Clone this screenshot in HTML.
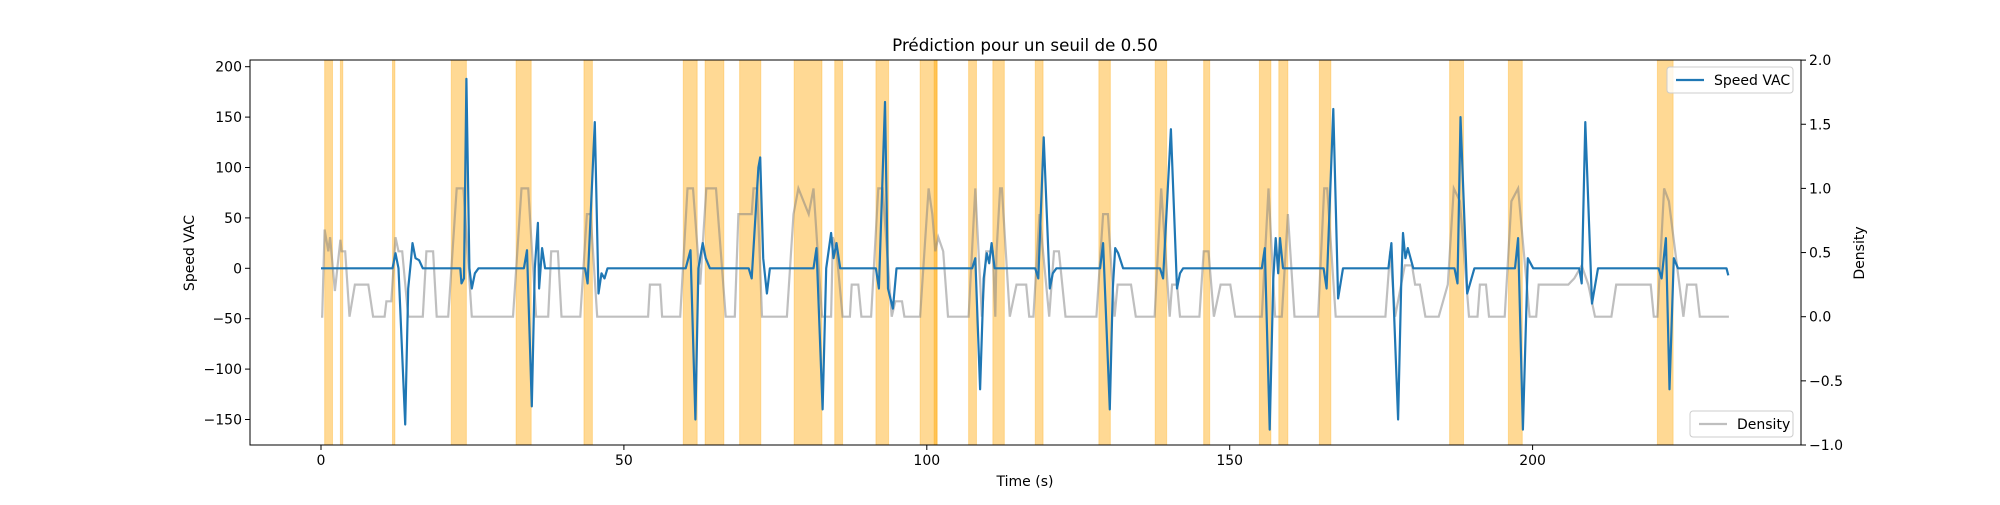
<!DOCTYPE html>
<html><head><meta charset="utf-8"><style>
body{margin:0;background:#fff;}
svg text{font-family:"DejaVu Sans","Liberation Sans",sans-serif;fill:#000;}
</style></head><body>
<svg id="chart" width="2000" height="500" viewBox="0 0 2000 500" xmlns="http://www.w3.org/2000/svg">
<rect width="2000" height="500" fill="#fff"/>
<g id="spans"></g>
<g id="plot"></g>
<g id="axes"></g>
</svg>
<script>
const spanStarts=[0.6,3.2,11.8,21.5,32.2,43.4,59.8,63.4,69.1,78.1,84.8,91.6,98.9,101.2,106.9,110.9,117.9,128.4,137.7,145.7,154.9,158.1,164.8,186.3,196.0,220.6];
const spanEnds  =[1.9,3.6,12.2,24.0,34.7,44.8,62.1,66.5,72.6,82.7,86.1,93.7,101.7,101.7,108.2,112.8,119.2,130.3,139.6,146.7,156.8,159.6,166.7,188.6,198.3,223.2];
const speedT=[0,11.8,12.3,12.8,13.9,14.4,14.8,15.1,15.6,16.2,16.8,23.0,23.2,23.6,24.0,24.5,24.9,25.4,26,33.5,34.0,34.8,35.3,35.8,36.0,36.5,37.0,43.6,44.0,45.2,45.8,46.3,46.8,47.3,60.2,61.0,61.8,62.3,63.0,63.5,64.2,70.6,71.1,72.2,72.5,73.0,73.6,74.1,81.3,81.8,82.8,83.4,84.2,84.6,85.1,85.7,91.6,92.1,93.1,93.6,94.4,95.0,107.5,108.0,108.8,109.4,109.9,110.3,110.7,111.2,117.9,118.4,119.3,120.3,120.8,121.4,128.6,129.1,130.2,130.7,131.1,131.6,132.4,138.5,139.0,140.3,141.3,141.8,142.3,155.3,155.8,156.6,157.2,157.6,158.0,158.3,158.8,165.5,166.0,167.1,167.9,168.7,176.2,176.7,177.8,178.3,178.6,179.0,179.4,180.3,187.1,187.6,188.1,189.2,190.4,197.1,197.6,198.4,199.2,200.1,207.7,208.1,208.7,209.8,210.8,220.8,221.3,222.0,222.6,223.3,224.0,232.0,232.3];
const speedV=[0,0,15,0,-155,-20,5,25,10,8,0,0,-15,-10,188,0,-20,-5,0,0,18,-137,0,45,-20,20,0,0,-15,145,-25,-5,-10,0,0,18,-150,0,25,10,0,0,-10,100,110,10,-25,0,0,20,-140,0,35,10,25,0,0,-20,165,-20,-40,0,0,10,-120,-10,15,5,25,0,0,-10,130,-20,-5,0,0,25,-140,-20,20,15,0,0,-10,138,-20,-5,0,0,20,-160,-10,30,-5,30,0,0,-20,158,-30,0,0,25,-150,-20,35,10,20,0,0,-15,150,-25,0,0,30,-160,10,0,0,-15,145,-35,0,0,-10,30,-120,10,0,0,-7];
const densT=[
0,0.2,0.6,1.2,1.5,2.3,3.2,3.4,4.0,4.7,
5.6,7.8,8.6,10.5,10.8,11.6,12.3,12.8,13.4,14.4,
16.8,17.4,18.5,19.1,21.0,22.4,23.5,24.9,31.7,33.1,
34.2,35.5,37.5,38.0,39.1,39.7,42.8,43.9,44.5,45.6,
54.0,54.3,56.0,56.3,59.3,60.5,61.4,62.6,63.6,65.2,
66.8,68.3,68.9,71.1,71.4,72.0,72.8,76.9,78.0,78.8,
80.5,81.3,82.7,84.2,84.5,85.1,86.1,87.3,87.6,88.7,
89.2,90.8,92.0,92.7,94.2,94.8,95.9,96.3,98.9,100.3,
100.9,101.4,101.9,102.7,103.5,106.9,108.0,109.1,109.8,110.9,
111.3,111.5,112.1,112.4,113.7,114.8,116.4,116.9,117.6,118.6,
120.2,121.0,121.8,122.9,128.0,129.1,129.9,131.0,131.5,133.7,
134.5,137.6,138.7,140.1,140.5,141.3,141.8,145.0,145.7,146.5,
147.4,148.5,150.1,150.9,155.3,156.4,157.5,158.6,159.6,160.7,
164.6,165.6,166.1,167.5,175.7,176.5,177.3,178.9,180.1,180.6,
181.4,182.3,184.5,186.0,187.0,188.0,189.5,190.9,191.3,192.3,
192.8,195.4,196.5,197.6,199.5,200.6,201.0,205.9,206.9,208.1,
209.2,210.3,213.0,213.8,219.5,220.0,220.6,221.7,222.5,224.9,
225.5,227.0,227.6,232.4];
const densV=[
0,0,0.68,0.51,0.62,0.2,0.6,0.51,0.51,0,
0.25,0.25,0,0,0.12,0.12,0.62,0.51,0.51,0,
0,0.51,0.51,0,0,1,1,0,0,1,
1,0,0,0.51,0.51,0,0,0.8,0.8,0,
0,0.25,0.25,0,0,1,1,0.25,1,1,
0,0,0.8,0.8,1,1,0,0,0.8,1,
0.8,1,0,0,0.62,0.51,0,0,0.25,0.25,
0,0,1,1,0,0.12,0.12,0,0,1,
0.8,0.51,0.62,0.51,0,0,1,0,0.51,0.51,
0,0.5,1,1,0,0.25,0.25,0,0,0.8,
0,0.51,0.51,0,0,0.8,0.8,0,0.25,0.25,
0,0,1,0,0.25,0.25,0,0,0.51,0.51,
0,0.25,0.25,0,0,1,0,0,0.8,0,
0,1,1,0,0,0.51,0,0.4,0.4,0.25,
0.25,0,0,0.25,1,0.9,0,0,0.25,0.25,
0,0,0.9,1,0,0,0.25,0.25,0.3,0.4,
0.25,0,0,0.25,0.25,0,0,1,0.9,0,
0.25,0.25,0,0];
const xTicks=[0,50,100,150,200];
const yTicks=[-150,-100,-50,0,50,100,150,200];
const y2Ticks=[-1.0,-0.5,0.0,0.5,1.0,1.5,2.0];

const L=250,R=1801,T=60,B=445;
const X=s=>321+s*6.058;
const Y=v=>268.3-v*1.008;
const Y2=d=>316.7-d*128.3;
const NS="http://www.w3.org/2000/svg";
function mk(tag,attrs,parent,text){const e=document.createElementNS(NS,tag);for(const k in attrs)e.setAttribute(k,attrs[k]);if(text!==undefined)e.textContent=text;parent.appendChild(e);return e;}
const spans=document.getElementById('spans'),plot=document.getElementById('plot'),axes=document.getElementById('axes');
for(let i=0;i<spanStarts.length;i++){
  const r=mk('rect',{x:X(spanStarts[i]),y:T,width:Math.max(1.5,X(spanEnds[i])-X(spanStarts[i])),height:B-T,fill:'#ffa500','fill-opacity':0.42,stroke:'#ffa500','stroke-opacity':0.3},spans);
  
  
}
const nD=Math.min(densT.length,densV.length);
let dpts=[];for(let i=0;i<nD;i++)dpts.push(X(densT[i]).toFixed(1)+','+Y2(densV[i]).toFixed(1));
const dl=mk('polyline',{points:dpts.join(' '),fill:'none',stroke:'#808080','stroke-opacity':0.5,'stroke-width':2.2},plot);


const nS=Math.min(speedT.length,speedV.length);
let spts=[];for(let i=0;i<nS;i++)spts.push(X(speedT[i]).toFixed(1)+','+Y(speedV[i]).toFixed(1));
const sl=mk('polyline',{points:spts.join(' '),fill:'none',stroke:'#1f77b4','stroke-width':2.2,'stroke-linejoin':'round'},plot);


const fr=mk('rect',{x:L,y:T,width:R-L,height:B-T,fill:'none',stroke:'#000','stroke-width':1},axes);


xTicks.forEach(v=>{mk('line',{x1:X(v),x2:X(v),y1:B,y2:B+5,stroke:'#000'},axes);
  const t=mk('text',{x:X(v),y:B+20,'font-size':14,'text-anchor':'middle'},axes,String(v));
  
  });
yTicks.forEach(v=>{mk('line',{x1:L-5,x2:L,y1:Y(v),y2:Y(v),stroke:'#000'},axes);
  const t=mk('text',{x:L-8,y:Y(v)+5,'font-size':14,'text-anchor':'end'},axes,(v<0?'\u2212'+(-v):String(v)));
  
  });
y2Ticks.forEach(v=>{mk('line',{x1:R,x2:R+5,y1:Y2(v),y2:Y2(v),stroke:'#000'},axes);
  const t=mk('text',{x:R+8,y:Y2(v)+5,'font-size':14,'text-anchor':'start'},axes,(v<0?'\u2212'+(-v).toFixed(1):v.toFixed(1)));
  
  });
</script>
<svg style="position:absolute;left:0;top:0" width="2000" height="500">
<text x="1025" y="51" font-size="16.7" text-anchor="middle" font-family="DejaVu Sans, Liberation Sans, sans-serif">Prédiction pour un seuil de 0.50</text>
<text x="1025" y="486" font-size="14" text-anchor="middle" font-family="DejaVu Sans, Liberation Sans, sans-serif">Time (s)</text>
<text transform="translate(194,253) rotate(-90)" font-size="14" text-anchor="middle" font-family="DejaVu Sans, Liberation Sans, sans-serif">Speed VAC</text>
<text transform="translate(1864,253) rotate(-90)" font-size="14" text-anchor="middle" font-family="DejaVu Sans, Liberation Sans, sans-serif">Density</text>
<g>
<rect x="1667" y="67" width="126" height="26" rx="3" fill="#fff" fill-opacity="0.8" stroke="#ccc"/>
<line x1="1676" x2="1704" y1="80" y2="80" stroke="#1f77b4" stroke-width="2.2"/>
<text x="1714" y="85" font-size="14" font-family="DejaVu Sans, Liberation Sans, sans-serif">Speed VAC</text>
</g>
<g>
<rect x="1690" y="411" width="103" height="26" rx="3" fill="#fff" fill-opacity="0.8" stroke="#ccc"/>
<line x1="1699" x2="1727" y1="424" y2="424" stroke="#808080" stroke-opacity="0.5" stroke-width="2.2"/>
<text x="1737" y="429" font-size="14" font-family="DejaVu Sans, Liberation Sans, sans-serif">Density</text>
</g>
</svg>
</body></html>
